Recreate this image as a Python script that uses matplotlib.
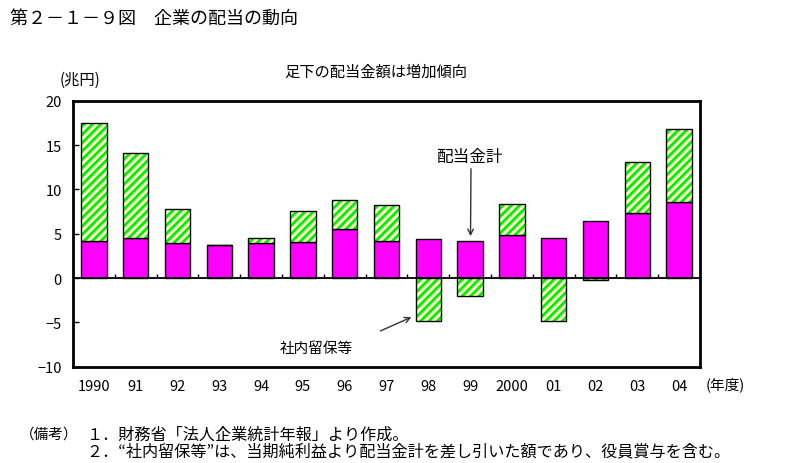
import matplotlib
matplotlib.use("Agg")
import matplotlib.pyplot as plt
import numpy as np

plt.rcParams['font.family'] = ['Noto Sans CJK JP', 'DejaVu Sans']
plt.rcParams['hatch.linewidth'] = 2.0

# 年度
years = ['1990', '91', '92', '93', '94', '95', '96', '97', '98', '99',
         '2000', '01', '02', '03', '04']
# 配当金計（兆円）
dividends = [4.2, 4.5, 4.0, 3.7, 3.9, 4.1, 5.5, 4.2, 4.4, 4.2,
             4.9, 4.5, 6.4, 7.3, 8.6]
# 社内留保等（兆円）
retained = [13.3, 9.6, 3.8, 0.0, 0.6, 3.5, 3.3, 4.0, -4.9, -2.0,
            3.4, -4.9, -0.2, 5.8, 8.2]

W, H = 806, 464
fig = plt.figure(figsize=(W / 100, H / 100), dpi=100)
ax = fig.add_axes([73 / W, 1 - 367.7 / H, 627 / W, 266 / H])


def fx(px):
    return px / W


def fy(py):
    return 1 - py / H


x = np.arange(len(years))
div = np.array(dividends)
ret = np.array(retained)
bottoms = np.where(ret >= 0, div, 0)
bw = 0.61

ax.bar(x, div, width=bw, color='#FF00FF', edgecolor='black', linewidth=1, zorder=2)
ax.bar(x, ret, width=bw, bottom=bottoms, color='#FFFFCC', edgecolor='#00F000',
       hatch='////', linewidth=0, zorder=2)
ax.bar(x, ret, width=bw, bottom=bottoms, fill=False, edgecolor='black',
       linewidth=1, zorder=3)

ax.set_xlim(-0.5, len(years) - 0.5)
ax.set_ylim(-10, 20)
ax.set_yticks([-10, -5, 0, 5, 10, 15, 20])
ax.tick_params(axis='y', direction='in', length=4, width=1, labelsize=10.5, pad=8)
ax.set_xticks(x)
ax.set_xticklabels(years)
ax.tick_params(axis='x', length=0, labelsize=10.5, pad=9)

ax.axhline(0, color='black', linewidth=1.3, zorder=4)
ax.vlines(np.arange(len(years) - 1) + 0.5, 0, 0.45, color='black', linewidth=1, zorder=4)

for s in ax.spines.values():
    s.set_linewidth(2)

# texts
fig.text(fx(10), fy(19), '第２－１－９図　企業の配当の動向', fontsize=13, va='center', ha='left')
fig.text(fx(376), fy(72), '足下の配当金額は増加傾向', fontsize=11, va='center', ha='center')
fig.text(fx(60), fy(80), '(兆円)', fontsize=11, va='center', ha='left')
fig.text(fx(706), fy(385), '(年度)', fontsize=10.5, va='center', ha='left')

ax.annotate('', xy=(fx(470.5), fy(240)), xycoords='figure fraction',
            xytext=(fx(471), fy(167)), textcoords='figure fraction',
            arrowprops=dict(arrowstyle='->', color='#333333', lw=1))
fig.text(fx(469), fy(157), '配当金計', fontsize=12, va='center', ha='center')

ax.annotate('', xy=(fx(414), fy(317)), xycoords='figure fraction',
            xytext=(fx(378), fy(333)), textcoords='figure fraction',
            arrowprops=dict(arrowstyle='->', color='#333333', lw=1))
fig.text(fx(316), fy(349), '社内留保等', fontsize=10.5, va='center', ha='center')

fig.text(fx(20), fy(435), '（備考）', fontsize=10.5, va='center', ha='left')
fig.text(fx(86), fy(435), '１．財務省「法人企業統計年報」より作成。', fontsize=11.6, va='center', ha='left')
fig.text(fx(86), fy(452), '２．“社内留保等”は、当期純利益より配当金計を差し引いた額であり、役員賞与を含む。',
         fontsize=11.6, va='center', ha='left')

fig.savefig('out.png', dpi=100)
